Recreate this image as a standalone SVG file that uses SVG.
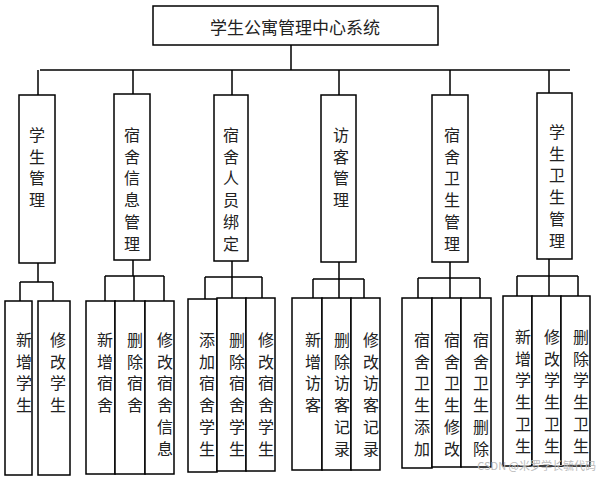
<svg xmlns="http://www.w3.org/2000/svg" width="601" height="477" viewBox="0 0 601 477">
<style>
rect{fill:#fff;stroke:#000;stroke-width:1.5}
text{font-family:"Noto Sans CJK SC",sans-serif;font-size:16px;fill:#222;text-anchor:middle}
#connectors path{fill:none;stroke:#000;stroke-width:1.5}
</style>
<rect width="601" height="477" style="stroke:none"/>
<g id="connectors">
<path d="M291 45V70M40 70H570M38 70V95M133 70V94M232 70V95M339 70V95M450 70V95M549 70V93"/>
<path d="M38 263V282M20 282H53M20 282V301M53 282V301"/>
<path d="M133 260V276M105 276H164M105 276V301M134 276V301M164 276V301"/>
<path d="M232 261V277M205 277H262M205 277V299M232 277V298M262 277V298"/>
<path d="M339 262V279M313 279H364M313 279V298M339 279V298M364 279V298"/>
<path d="M450 262V278M418 278H480M418 278V298M450 278V298M480 278V298"/>
<path d="M549 259V276M517 276H578M517 276V296M549 276V296M578 276V296"/>
</g>
<g id="title"><rect x="153" y="6" width="285" height="39"/><text x="295" y="34" style="font-size:17px">学生公寓管理中心系统</text></g>
<g id="n1"><rect x="19" y="95" width="36" height="168"/><text x="37" y="141"><tspan x="37">学</tspan><tspan x="37" dy="21.7">生</tspan><tspan x="37" dy="21.7">管</tspan><tspan x="37" dy="21.7">理</tspan></text></g>
<g id="n2"><rect x="114" y="94" width="36" height="166"/><text x="132" y="141"><tspan x="132">宿</tspan><tspan x="132" dy="21.7">舍</tspan><tspan x="132" dy="21.7">信</tspan><tspan x="132" dy="21.7">息</tspan><tspan x="132" dy="21.7">管</tspan><tspan x="132" dy="21.7">理</tspan></text></g>
<g id="n3"><rect x="214" y="95" width="34" height="166"/><text x="231" y="141"><tspan x="231">宿</tspan><tspan x="231" dy="21.7">舍</tspan><tspan x="231" dy="21.7">人</tspan><tspan x="231" dy="21.7">员</tspan><tspan x="231" dy="21.7">绑</tspan><tspan x="231" dy="21.7">定</tspan></text></g>
<g id="n4"><rect x="321" y="95" width="35" height="167"/><text x="341" y="141"><tspan x="341">访</tspan><tspan x="341" dy="21.7">客</tspan><tspan x="341" dy="21.7">管</tspan><tspan x="341" dy="21.7">理</tspan></text></g>
<g id="n5"><rect x="432" y="95" width="36" height="167"/><text x="452" y="141"><tspan x="452">宿</tspan><tspan x="452" dy="21.7">舍</tspan><tspan x="452" dy="21.7">卫</tspan><tspan x="452" dy="21.7">生</tspan><tspan x="452" dy="21.7">管</tspan><tspan x="452" dy="21.7">理</tspan></text></g>
<g id="n6"><rect x="537" y="93" width="35" height="166"/><text x="557" y="138"><tspan x="557">学</tspan><tspan x="557" dy="21.7">生</tspan><tspan x="557" dy="21.7">卫</tspan><tspan x="557" dy="21.7">生</tspan><tspan x="557" dy="21.7">管</tspan><tspan x="557" dy="21.7">理</tspan></text></g>
<g id="c1a"><rect x="5" y="301" width="27" height="174"/><text y="346"><tspan x="24">新</tspan><tspan x="24" dy="21.7">增</tspan><tspan x="24" dy="21.7">学</tspan><tspan x="24" dy="21.7">生</tspan></text></g>
<g id="c1b"><rect x="38" y="301" width="32" height="174"/><text y="346"><tspan x="58">修</tspan><tspan x="58" dy="21.7">改</tspan><tspan x="58" dy="21.7">学</tspan><tspan x="58" dy="21.7">生</tspan></text></g>
<g id="c2a"><rect x="86" y="301" width="29" height="173"/><text y="346"><tspan x="105">新</tspan><tspan x="105" dy="21.7">增</tspan><tspan x="105" dy="21.7">宿</tspan><tspan x="105" dy="21.7">舍</tspan></text></g>
<g id="c2b"><rect x="115" y="301" width="30" height="173"/><text y="346"><tspan x="135">删</tspan><tspan x="135" dy="21.7">除</tspan><tspan x="135" dy="21.7">宿</tspan><tspan x="135" dy="21.7">舍</tspan></text></g>
<g id="c2c"><rect x="145" y="301" width="29" height="173"/><text y="346"><tspan x="165">修</tspan><tspan x="165" dy="21.7">改</tspan><tspan x="165" dy="21.7">宿</tspan><tspan x="165" dy="21.7">舍</tspan><tspan x="165" dy="21.7">信</tspan><tspan x="165" dy="21.7">息</tspan></text></g>
<g id="c3a"><rect x="188" y="299" width="29" height="173"/><text y="346"><tspan x="207">添</tspan><tspan x="207" dy="21.7">加</tspan><tspan x="207" dy="21.7">宿</tspan><tspan x="207" dy="21.7">舍</tspan><tspan x="207" dy="21.7">学</tspan><tspan x="207" dy="21.7">生</tspan></text></g>
<g id="c3b"><rect x="217" y="298" width="29" height="173"/><text y="346"><tspan x="237">删</tspan><tspan x="237" dy="21.7">除</tspan><tspan x="237" dy="21.7">宿</tspan><tspan x="237" dy="21.7">舍</tspan><tspan x="237" dy="21.7">学</tspan><tspan x="237" dy="21.7">生</tspan></text></g>
<g id="c3c"><rect x="246" y="298" width="29" height="173"/><text y="346"><tspan x="266">修</tspan><tspan x="266" dy="21.7">改</tspan><tspan x="266" dy="21.7">宿</tspan><tspan x="266" dy="21.7">舍</tspan><tspan x="266" dy="21.7">学</tspan><tspan x="266" dy="21.7">生</tspan></text></g>
<g id="c4a"><rect x="292" y="298" width="30" height="172"/><text y="346"><tspan x="313">新</tspan><tspan x="313" dy="21.7">增</tspan><tspan x="313" dy="21.7">访</tspan><tspan x="313" dy="21.7">客</tspan></text></g>
<g id="c4b"><rect x="322" y="298" width="29" height="172"/><text y="346"><tspan x="342">删</tspan><tspan x="342" dy="21.7">除</tspan><tspan x="342" dy="21.7">访</tspan><tspan x="342" dy="21.7">客</tspan><tspan x="342" dy="21.7">记</tspan><tspan x="342" dy="21.7">录</tspan></text></g>
<g id="c4c"><rect x="351" y="298" width="29" height="172"/><text y="346"><tspan x="371">修</tspan><tspan x="371" dy="21.7">改</tspan><tspan x="371" dy="21.7">访</tspan><tspan x="371" dy="21.7">客</tspan><tspan x="371" dy="21.7">记</tspan><tspan x="371" dy="21.7">录</tspan></text></g>
<g id="c5a"><rect x="402" y="298" width="30" height="170"/><text y="346"><tspan x="422">宿</tspan><tspan x="422" dy="21.7">舍</tspan><tspan x="422" dy="21.7">卫</tspan><tspan x="422" dy="21.7">生</tspan><tspan x="422" dy="21.7">添</tspan><tspan x="422" dy="21.7">加</tspan></text></g>
<g id="c5b"><rect x="432" y="298" width="29" height="169"/><text y="346"><tspan x="452">宿</tspan><tspan x="452" dy="21.7">舍</tspan><tspan x="452" dy="21.7">卫</tspan><tspan x="452" dy="21.7">生</tspan><tspan x="452" dy="21.7">修</tspan><tspan x="452" dy="21.7">改</tspan></text></g>
<g id="c5c"><rect x="461" y="298" width="30" height="169"/><text y="346"><tspan x="481">宿</tspan><tspan x="481" dy="21.7">舍</tspan><tspan x="481" dy="21.7">卫</tspan><tspan x="481" dy="21.7">生</tspan><tspan x="481" dy="21.7">删</tspan><tspan x="481" dy="21.7">除</tspan></text></g>
<g id="c6a"><rect x="503" y="296" width="29" height="170"/><text y="343"><tspan x="523">新</tspan><tspan x="523" dy="21.7">增</tspan><tspan x="523" dy="21.7">学</tspan><tspan x="523" dy="21.7">生</tspan><tspan x="523" dy="21.7">卫</tspan><tspan x="523" dy="21.7">生</tspan></text></g>
<g id="c6b"><rect x="532" y="296" width="29" height="170"/><text y="343"><tspan x="552">修</tspan><tspan x="552" dy="21.7">改</tspan><tspan x="552" dy="21.7">学</tspan><tspan x="552" dy="21.7">生</tspan><tspan x="552" dy="21.7">卫</tspan><tspan x="552" dy="21.7">生</tspan></text></g>
<g id="c6c"><rect x="561" y="296" width="29" height="170"/><text y="343"><tspan x="581">删</tspan><tspan x="581" dy="21.7">除</tspan><tspan x="581" dy="21.7">学</tspan><tspan x="581" dy="21.7">生</tspan><tspan x="581" dy="21.7">卫</tspan><tspan x="581" dy="21.7">生</tspan></text></g>
<text x="596" y="470" style="font-size:11px;fill:#bbb;text-anchor:end">CSDN @米罗学长毓代码</text>
</svg>
